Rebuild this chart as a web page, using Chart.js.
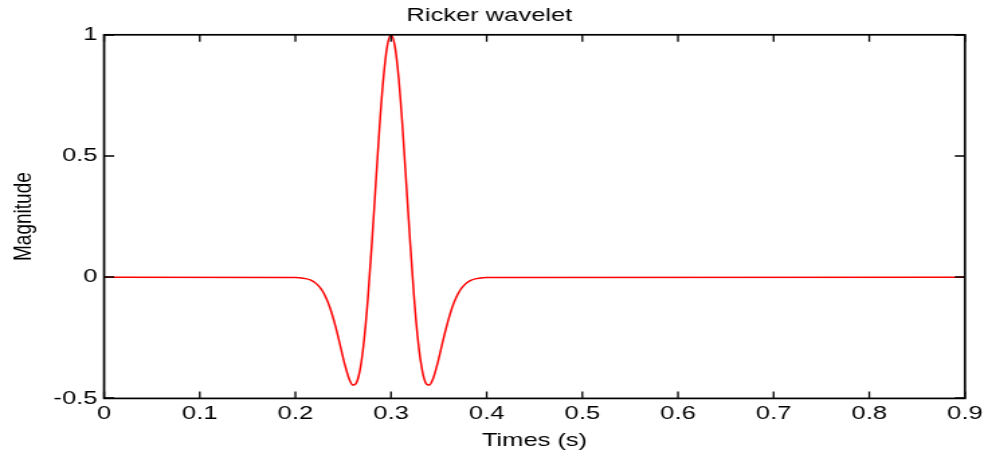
<!DOCTYPE html>
<html>
<head>
<meta charset="utf-8">
<title>Ricker wavelet</title>
<script src="https://cdn.jsdelivr.net/npm/chart.js@4"></script>
<style>
  html, body { margin: 0; padding: 0; background: #fff; }
  /* the figure is drawn narrow and widened to the page, like the exported plot */
  #wavelet-chart { display: block; }
</style>
</head>
<body>
<canvas id="wavelet-chart" width="736" height="456" style="width:988px;height:456px"></canvas>
<script>
// Sample times (s) and wavelet amplitude
const times = [
    0, 0.2, 0.204, 0.208, 0.212, 0.216, 0.22, 0.224, 0.228, 0.232, 0.236,
    0.24, 0.244, 0.248, 0.252, 0.256, 0.26, 0.264, 0.268, 0.272, 0.276,
    0.28, 0.284, 0.288, 0.292, 0.296, 0.3, 0.304, 0.308, 0.312, 0.316,
    0.32, 0.324, 0.328, 0.332, 0.336, 0.34, 0.344, 0.348, 0.352, 0.356,
    0.36, 0.364, 0.368, 0.372, 0.376, 0.38, 0.384, 0.388, 0.392, 0.396,
    0.4, 0.9
];
const magnitudes = [
    0, -0.001, -0.002, -0.004, -0.007, -0.012, -0.021, -0.035, -0.055, -0.085, -0.124,
    -0.175, -0.235, -0.301, -0.365, -0.418, -0.445, -0.434, -0.372, -0.253, -0.078,
    0.142, 0.384, 0.621, 0.82, 0.953, 1, 0.953, 0.82, 0.621, 0.384,
    0.142, -0.078, -0.253, -0.372, -0.434, -0.445, -0.418, -0.365, -0.301, -0.235,
    -0.175, -0.124, -0.085, -0.055, -0.035, -0.021, -0.012, -0.007, -0.004, -0.002,
    -0.001, 0
];
const xTicks = [0, 0.1, 0.2, 0.3, 0.4, 0.5, 0.6, 0.7, 0.8, 0.9];
const yTicks = [-0.5, 0, 0.5, 1];

const FONT = "'Liberation Sans', Arial, sans-serif";

// Boxed axes with inward tick marks on all four sides
const boxAxes = {
    id: 'boxAxes',
    afterDatasetsDraw(chart) {
        const { ctx, chartArea: a, scales } = chart;
        ctx.save();
        ctx.strokeStyle = '#000';
        ctx.lineWidth = 1.7;
        ctx.strokeRect(a.left, a.top, a.right - a.left, a.bottom - a.top);
        ctx.lineWidth = 1.3;
        ctx.beginPath();
        xTicks.forEach(v => {
            const px = scales.x.getPixelForValue(v);
            ctx.moveTo(px, a.bottom); ctx.lineTo(px, a.bottom - 7);
            ctx.moveTo(px, a.top); ctx.lineTo(px, a.top + 7);
        });
        yTicks.forEach(v => {
            const py = Math.round(scales.y.getPixelForValue(v));
            ctx.moveTo(a.left, py); ctx.lineTo(a.left + 7.5, py);
            ctx.moveTo(a.right, py); ctx.lineTo(a.right - 7.5, py);
        });
        ctx.stroke();
        ctx.restore();
    }
};

const fmt = v => Number(v.toFixed(1)).toString();

new Chart(document.getElementById('wavelet-chart'), {
    type: 'line',
    data: {
        datasets: [{
            data: times.map((t, i) => ({ x: t, y: magnitudes[i] })),
            borderColor: '#ff0000',
            borderWidth: 1.5,
            pointRadius: 0,
            cubicInterpolationMode: 'monotone',
            fill: false
        }]
    },
    options: {
        responsive: false,
        animation: false,
        devicePixelRatio: 1,
        layout: { padding: { left: 6, right: 13, top: 0, bottom: 4 } },
        plugins: {
            legend: { display: false },
            tooltip: { enabled: false },
            title: {
                display: true,
                text: 'Ricker wavelet',
                color: '#000',
                font: { family: FONT, size: 19, weight: 'normal' },
                padding: { top: 4, bottom: 8 }
            }
        },
        scales: {
            x: {
                type: 'linear',
                min: 0,
                max: 0.9,
                afterBuildTicks: s => { s.ticks = xTicks.map(v => ({ value: v })); },
                ticks: {
                    color: '#000',
                    font: { family: FONT, size: 19 },
                    padding: 4,
                    maxRotation: 0,
                    callback: v => fmt(v)
                },
                grid: { display: false, drawTicks: false },
                border: { display: false },
                title: {
                    display: true,
                    text: 'Times (s)',
                    color: '#000',
                    font: { family: FONT, size: 19 },
                    padding: { top: 0, bottom: 0 }
                }
            },
            y: {
                min: -0.5,
                max: 1,
                afterBuildTicks: s => { s.ticks = yTicks.map(v => ({ value: v })); },
                ticks: {
                    color: '#000',
                    font: { family: FONT, size: 19 },
                    padding: 5,
                    callback: v => fmt(v)
                },
                grid: { display: false, drawTicks: false },
                border: { display: false },
                title: {
                    display: true,
                    text: 'Magnitude',
                    color: '#000',
                    font: { family: FONT, size: 19 },
                    padding: { top: 0, bottom: 6 }
                }
            }
        }
    },
    plugins: [boxAxes]
});
</script>
</body>
</html>
